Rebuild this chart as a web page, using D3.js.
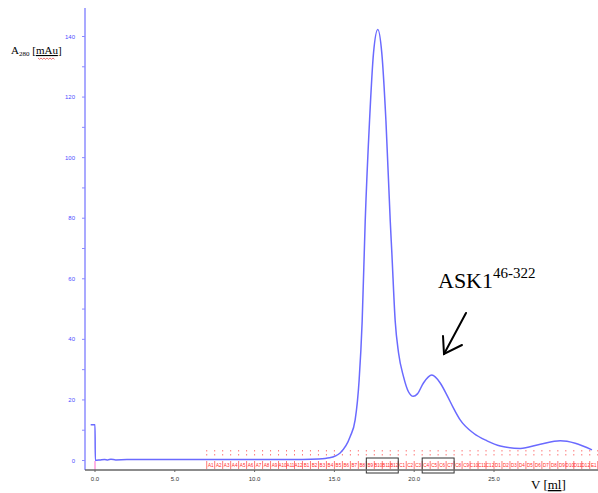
<!DOCTYPE html>
<html>
<head>
<meta charset="utf-8">
<script src="https://cdn.jsdelivr.net/npm/d3@7"></script>
<style>
  html, body { margin: 0; padding: 0; background: #fff; }
  svg { display: block; }
</style>
</head>
<body>
<svg id="chart" width="598" height="493"></svg>
<script>
// Elution volume (ml) and absorbance at 280 nm (mAu)
const volume = [-0.27, 0.0, 0.02, 0.3, 0.6, 0.8, 1.0, 1.3, 2.0, 5.0, 10.0, 13.0, 14.0, 14.7,
  15.36, 15.99, 16.30, 16.55, 16.74, 16.93, 17.20, 17.45, 17.72, 17.97, 18.23, 18.50, 18.60,
  18.81, 19.02, 19.33, 19.64, 19.94, 20.20, 20.58, 21.10, 21.63, 22.05, 22.47, 22.88, 23.72,
  24.56, 25.39, 26.65, 27.90, 29.15, 30.09, 31.14];
const absorbance = [11.8, 11.8, 0.1, 0.2, 0.35, 0.2, 0.4, 0.2, 0.3, 0.3, 0.3, 0.35, 0.5, 0.9,
  2.5, 7.9, 13.4, 26.6, 46, 79, 112, 134.5, 142.3, 134.5, 112, 79, 68.5,
  46, 35.5, 27.7, 22.7, 21.2, 22.0, 25.6, 28.2, 25.6, 21.6, 17.2, 13.4, 9.0,
  6.5, 4.8, 4.0, 5.4, 6.5, 5.7, 3.5];

// Fractions: 0.5 ml each starting at 7.0 ml
const fractionStart = 7.0;
const fractionSize = 0.5;
const fractionLabels = [
  "A1","A2","A3","A4","A5","A6","A7","A8","A9","A10","A11","A12",
  "B1","B2","B3","B4","B5","B6","B7","B8","B9","B10","B11","B12",
  "C1","C2","C3","C4","C5","C6","C7","C8","C9","C10","C11","C12",
  "D1","D2","D3","D4","D5","D6","D7","D8","D9","D10","D11","D12","E1"];
// Pooled fraction ranges (ml)
const pooledRanges = [[17.0, 19.0], [20.5, 22.5]];

const yTicks = [0, 10, 20, 30, 40, 50, 60, 70, 80, 90, 100, 110, 120, 130, 140];
const yLabelTicks = [0, 20, 40, 60, 80, 100, 120, 140];
const xTicks = [0, 5, 10, 15, 20, 25];

const svg = d3.select("#chart");
const x = d3.scaleLinear().domain([0, 25]).range([95, 494]);
const y = d3.scaleLinear().domain([0, 140]).range([460.5, 36.5]);

const axisX = 85, axisY = 470;

// Fraction boundaries and labels
const fr = svg.append("g");
const fractionEdges = fractionLabels.map((_, i) => fractionStart + i * fractionSize)
  .concat([fractionStart + fractionLabels.length * fractionSize]);
fractionEdges.forEach(v0 => {
  const px = x(v0);
  // dotted upper part
  fr.append("line")
    .attr("x1", px).attr("x2", px).attr("y1", 450).attr("y2", 458)
    .attr("stroke", "#ff5555").attr("stroke-width", 0.8)
    .attr("stroke-dasharray", "1.5,2.5");
  // solid separator beside the label
  fr.append("line")
    .attr("x1", px).attr("x2", px).attr("y1", 461).attr("y2", 469)
    .attr("stroke", "#ff5555").attr("stroke-width", 0.8);
});
fractionLabels.forEach((lab, i) => {
  const px = x(fractionStart + (i + 0.5) * fractionSize);
  fr.append("text")
    .attr("x", px).attr("y", 467)
    .attr("text-anchor", "middle")
    .attr("font-family", "Arial, Liberation Sans, sans-serif")
    .attr("font-size", 4.6).attr("fill", "#ff2a2a")
    .text(lab);
});

// Pooled fraction boxes
svg.append("g").selectAll("rect").data(pooledRanges).join("rect")
  .attr("x", d => x(d[0])).attr("y", 458)
  .attr("width", d => x(d[1]) - x(d[0])).attr("height", 15)
  .attr("fill", "none").attr("stroke", "#333").attr("stroke-width", 1);

// Injection mark
svg.append("line")
  .attr("x1", x(0)).attr("x2", x(0)).attr("y1", 461).attr("y2", 470)
  .attr("stroke", "#ff66cc").attr("stroke-width", 1);

// Y axis
const yAxisG = svg.append("g");
yAxisG.append("line")
  .attr("x1", axisX).attr("x2", axisX).attr("y1", 8).attr("y2", axisY)
  .attr("stroke", "#8c8cff").attr("stroke-width", 1.5);
yAxisG.selectAll("line.tick").data(yTicks).join("line")
  .attr("class", "tick")
  .attr("x1", axisX - 3).attr("x2", axisX).attr("y1", d => y(d)).attr("y2", d => y(d))
  .attr("stroke", "#8c8cff").attr("stroke-width", 1);
yAxisG.selectAll("text").data(yLabelTicks).join("text")
  .attr("x", 75).attr("y", d => y(d) + 2)
  .attr("text-anchor", "end")
  .attr("font-family", "Arial, Liberation Sans, sans-serif")
  .attr("font-size", 6).attr("fill", "#4d4dff")
  .text(d => d);

// X axis
const xAxisG = svg.append("g");
xAxisG.append("line")
  .attr("x1", axisX).attr("x2", 598).attr("y1", axisY).attr("y2", axisY)
  .attr("stroke", "#666").attr("stroke-width", 1.5);
xAxisG.selectAll("line.tick").data(xTicks).join("line")
  .attr("class", "tick")
  .attr("x1", d => x(d)).attr("x2", d => x(d)).attr("y1", axisY).attr("y2", axisY + 2)
  .attr("stroke", "#666").attr("stroke-width", 1);
xAxisG.selectAll("text").data(xTicks).join("text")
  .attr("x", d => x(d)).attr("y", 481)
  .attr("text-anchor", "middle")
  .attr("font-family", "Arial, Liberation Sans, sans-serif")
  .attr("font-size", 6).attr("fill", "#333")
  .text(d => d.toFixed(1));

// Chromatogram trace
const line = d3.line()
  .x((d, i) => x(volume[i]))
  .y((d, i) => y(absorbance[i]))
  .curve(d3.curveMonotoneX);
svg.append("path")
  .attr("d", line(volume))
  .attr("fill", "none")
  .attr("stroke", "#6a6aff")
  .attr("stroke-width", 1.5);

// Axis titles
const serif = "'Liberation Serif', 'Times New Roman', serif";
const yt = svg.append("text")
  .attr("x", 11).attr("y", 54)
  .attr("font-family", serif).attr("font-size", 11).attr("fill", "#000");
yt.append("tspan").text("A");
yt.append("tspan").attr("font-size", 7).attr("dy", 2).text("280");
yt.append("tspan").attr("dy", -2).text(" [");
yt.append("tspan").attr("text-decoration", "underline").text("mAu");
yt.append("tspan").text("]");
// spell-check squiggle under the unit
const sq = d3.path();
sq.moveTo(38, 58);
for (let i = 0; i < 11; i++) {
  sq.lineTo(39.5 + i * 1.5, i % 2 === 0 ? 59.3 : 58);
}
svg.append("path").attr("d", sq.toString())
  .attr("fill", "none").attr("stroke", "#e03030").attr("stroke-width", 0.7);

const xt = svg.append("text")
  .attr("x", 531).attr("y", 489)
  .attr("font-family", serif).attr("font-size", 13).attr("fill", "#000");
xt.append("tspan").text("V [");
xt.append("tspan").attr("text-decoration", "underline").text("ml");
xt.append("tspan").text("]");

// Peak annotation
const ann = svg.append("text")
  .attr("x", 438).attr("y", 288)
  .attr("font-family", serif).attr("font-size", 22).attr("fill", "#000");
ann.append("tspan").text("ASK1");
ann.append("tspan").attr("font-size", 15).attr("dy", -10).text("46-322");

const arrow = svg.append("g").attr("stroke", "#000").attr("stroke-width", 2)
  .attr("fill", "none").attr("stroke-linecap", "round");
arrow.append("line").attr("x1", 466).attr("y1", 313).attr("x2", 444).attr("y2", 354);
arrow.append("polyline").attr("points", "443,336 444,354 462,345");
</script>
</body>
</html>
